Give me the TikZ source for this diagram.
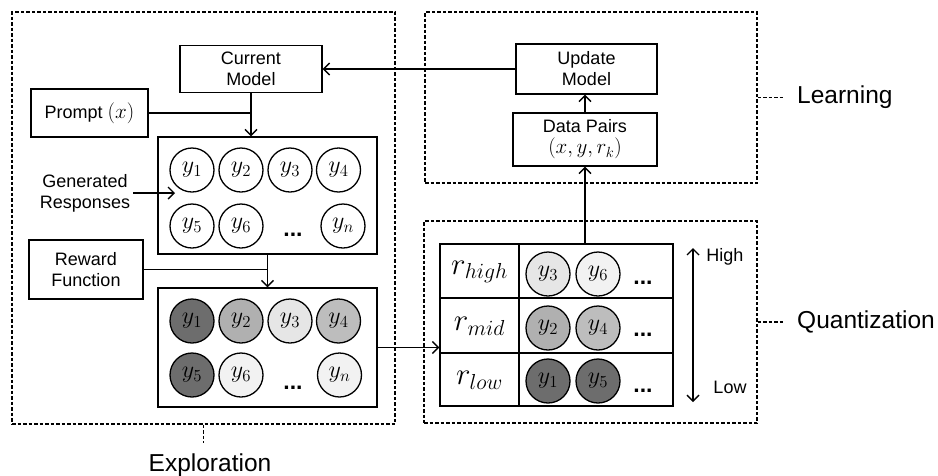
\RequirePackage{fix-cm}
\documentclass[tikz,border=0pt]{standalone}
\usepackage[no-math]{fontspec}
\setmainfont{Liberation Sans}
\usetikzlibrary{arrows.meta}
\definecolor{cdark}{HTML}{6D6D6D}
\definecolor{cmid}{HTML}{B0B0B0}
\definecolor{cmidl}{HTML}{BDBDBD}
\definecolor{clight}{HTML}{E6E6E6}
\definecolor{cvlight}{HTML}{F2F2F2}
\newcommand{\boxmath}[1]{{\fontsize{21}{21}\selectfont$#1$}}
\begin{document}
\begin{tikzpicture}[x=1pt,y=-1pt,
  box/.style={draw, line width=1.4pt, align=center, inner sep=0pt, font=\fontsize{18}{21}\selectfont},
  grp/.style={draw, line width=1.2pt, dash pattern=on 3.5pt off 2pt, inner sep=0pt},
  tick/.style={line width=1.2pt, dash pattern=on 3.5pt off 2pt},
  resp/.style={circle, draw, line width=1.3pt, minimum size=44pt, inner sep=0pt, font=\fontsize{24}{24}\selectfont},
  conn/.style={line width=1.4pt},
  arr/.style={conn, -{Straight Barb[length=6pt,width=12pt,line width=1.4pt]}},
  darr/.style={conn, {Straight Barb[length=6pt,width=12pt,line width=1.4pt]}-{Straight Barb[length=6pt,width=12pt,line width=1.4pt]}},
  lab/.style={font=\fontsize{24.5}{28}\selectfont, inner sep=0pt},
  txt/.style={font=\fontsize{18}{21}\selectfont, align=center},
  dots/.style={font=\fontsize{23}{23}\selectfont\bfseries, anchor=base, inner sep=0pt},
  rlab/.style={font=\fontsize{31}{31}\selectfont, inner sep=0pt}
]
\useasboundingbox (0,0) rectangle (938,475);

% group boxes
\node[grp, minimum width=383pt, minimum height=412pt] (ebox) at (203.5,218) {};
\node[grp, minimum width=332pt, minimum height=171pt] (lbox) at (591,97.5) {};
\node[grp, minimum width=333pt, minimum height=202pt] (qbox) at (590.5,322) {};

% group labels
\node[lab, anchor=west, inner xsep=12pt] (learn) at (785,97.5) {Learning};
\node[lab, anchor=west, inner xsep=12pt] (quant) at (785,322) {Quantization};
\node[lab, anchor=base] (expl) at (210,471) {Exploration};
\coordinate (etick) at (203.5,443);
\draw[tick] (lbox.east) -- (learn.west);
\draw[tick] (qbox.east) -- (quant.west);
\draw[tick] (ebox.south) -- (etick);

% exploration boxes
\node[box, minimum width=142pt, minimum height=47pt] (cm) at (251,69) {Current\\Model};
\node[box, minimum width=117pt, minimum height=48pt] (pr) at (89.5,113) {Prompt \boxmath{(x)}};
\node[box, minimum width=219pt, minimum height=117pt] (gen) at (267.5,195.5) {};
\node[box, minimum width=114pt, minimum height=59pt] (rf) at (86,269.5) {Reward\\Function};
\node[box, minimum width=219pt, minimum height=119pt] (rew) at (267.5,347.5) {};
\node[txt, inner sep=3pt] (gr) at (85,193) {Generated\\Responses};
\coordinate (grt) at (175,193);

% generated responses
\node[resp] (g1) at (192,170) {$y_1$};
\node[resp] (g2) at (241,170) {$y_2$};
\node[resp] (g3) at (290,170) {$y_3$};
\node[resp] (g4) at (338.5,170) {$y_4$};
\node[resp] (g5) at (192,226) {$y_5$};
\node[resp] (g6) at (241,226) {$y_6$};
\node[resp] (gn) at (343,226) {$y_n$};
\node[dots] (gd) at (293,236) {...};

% rewarded responses
\node[resp, fill=cdark] (r1) at (192,321) {$y_1$};
\node[resp, fill=cmid] (r2) at (241,321) {$y_2$};
\node[resp, fill=clight] (r3) at (290,321) {$y_3$};
\node[resp, fill=cmidl] (r4) at (338.5,321) {$y_4$};
\node[resp, fill=cdark] (r5) at (192,375) {$y_5$};
\node[resp, fill=cvlight] (r6) at (241,375) {$y_6$};
\node[resp, fill=cvlight] (rn) at (339.5,375) {$y_n$};
\node[dots] (rd) at (293,389) {...};

% learning boxes
\node[box, minimum width=141pt, minimum height=50pt] (um) at (586.5,69) {Update\\Model};
\node[box, minimum width=144pt, minimum height=53pt] (dp) at (585,139.5) {Data Pairs\\\boxmath{(x,y,r_k)}};

% quantization table
\node[draw, line width=1.4pt, minimum width=233pt, minimum height=162pt, inner sep=0pt] (tab) at (556.5,325) {};
\draw[line width=1.4pt] (440,298) -- (673,298);
\draw[line width=1.4pt] (440,353) -- (673,353);
\draw[line width=1.4pt] (519,244) -- (519,406);
\node[rlab] (rh) at (479.5,272) {$r_{high}$};
\node[rlab] (rm) at (479.5,326) {$r_{mid}$};
\node[rlab] (rl) at (479.5,380) {$r_{low}$};
\node[resp, fill=clight] (t3) at (548,274) {$y_3$};
\node[resp, fill=cvlight] (t6) at (598,274) {$y_6$};
\node[resp, fill=cmid] (t2) at (548,328) {$y_2$};
\node[resp, fill=cmidl] (t4) at (598,328) {$y_4$};
\node[resp, fill=cdark] (t1) at (548,381) {$y_1$};
\node[resp, fill=cdark] (t5) at (598,381) {$y_5$};
\node[dots] (td1) at (643,284) {...};
\node[dots] (td2) at (643,336) {...};
\node[dots] (td3) at (643,392) {...};
\coordinate (hi) at (693,248);
\coordinate (lo) at (693,402);
\draw[darr] (hi) -- (lo);
\node[txt] (high) at (725,257) {High};
\node[txt] (low) at (730,387) {Low};

% connectors
\draw[arr] (um.west) -- (cm.east);
\draw[arr] (cm.south) -- (gen.north -| cm.south);
\draw[conn] (pr.east) -- (pr.east -| cm.south);
\draw[arr] (gr.east) -- (grt);
\draw[arr] (gen.south) -- (rew.north);
\draw[conn] (rf.east) -- (rf.east -| gen.south);
\draw[arr] (rew.east) -- (tab.west |- rew.east);
\draw[arr] (tab.north -| dp.south) -- (dp.south);
\draw[arr] (dp.north) -- (dp.north |- um.south);
\end{tikzpicture}
\end{document}
